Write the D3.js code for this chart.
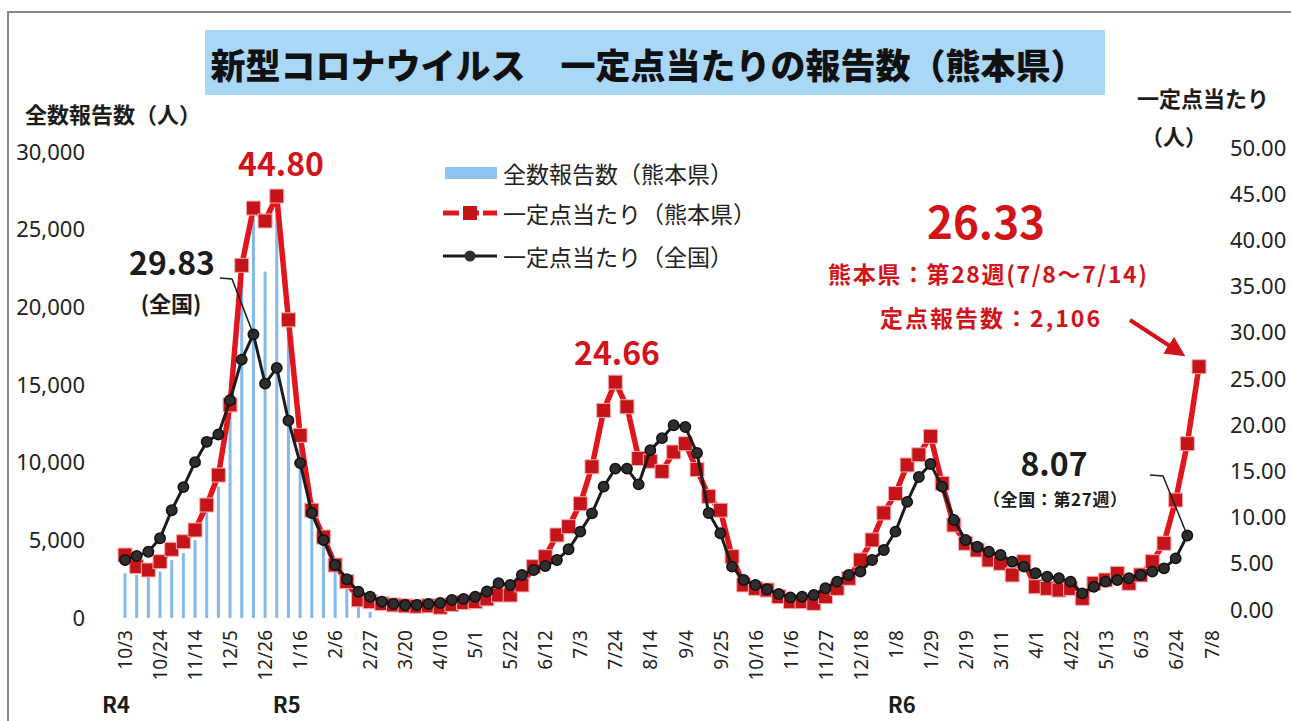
<!DOCTYPE html>
<html lang="ja">
<head>
<meta charset="utf-8">
<script src="https://cdnjs.cloudflare.com/ajax/libs/d3/7.8.5/d3.min.js"></script>
<style>
  html, body { margin: 0; padding: 0; background: #fff; }
  svg { display: block; }
  text { font-family: "Noto Sans CJK JP", "Noto Sans", sans-serif; }
  .axis text { font-family: "Noto Sans", sans-serif; fill: #222; }
</style>
</head>
<body>
<div id="chart"></div>
<script>
var svgWidth = 1291;
var svgHeight = 721;

// weeks (monday) from R4 10/3 to R6 7/8
var weeks = d3.timeMonday.range(new Date(2022, 9, 3), new Date(2024, 6, 9));
var fmtWeek = d3.timeFormat("%-m/%-d");
var weekLabels = weeks.map(fmtWeek);

var tickLabels = ["10/3", "10/24", "11/14", "12/5", "12/26", "1/16", "2/6", "2/27", "3/20", "4/10",
  "5/1", "5/22", "6/12", "7/3", "7/24", "8/14", "9/4", "9/25", "10/16", "11/6", "11/27", "12/18",
  "1/8", "1/29", "2/19", "3/11", "4/1", "4/22", "5/13", "6/3", "6/24", "7/8"];

var eraLabels = ["R4", "R5", "R6"];
var eraWeeks = ["10/3", "1/2", "1/1"];

var leftTicks = [0, 5000, 10000, 15000, 20000, 25000, 30000];
var rightTicks = [0, 5, 10, 15, 20, 25, 30, 35, 40, 45, 50];

// 全数報告数（熊本県）
var totalReports = [2880, 2770, 2660, 2980, 3730, 4170, 5020, 6950, 8450, 12960,
  22000, 25700, 22300, 26400, 18700, 11300, 6600, 4800, 3000, 1900, 800, 400];

// 一定点当たり（熊本県）
var kumamoto = [5.95, 4.69, 4.33, 5.23, 6.57, 7.39, 8.66, 11.36, 14.6, 22.2,
  37.3, 43.5, 42.1, 44.80, 31.4, 18.9, 10.8, 7.9, 4.87, 3.07,
  1.1, 0.9, 0.7, 0.55, 0.45, 0.4, 0.45, 0.3, 0.6, 0.8,
  0.9, 1.2, 1.62, 1.62, 2.71, 4.69, 5.77, 8.12, 9.02, 11.5,
  15.5, 21.6, 24.66, 22.0, 16.4, 16.1, 15.0, 17.1, 18.0, 15.2,
  12.3, 10.8, 5.77, 2.71, 2.34, 2.16, 1.44, 0.9, 0.9, 0.72,
  1.44, 2.34, 3.43, 5.41, 7.58, 10.5, 12.6, 15.7, 16.8, 18.8,
  13.7, 9.2, 7.22, 6.49, 5.41, 5.05, 3.79, 5.23, 2.52, 2.34,
  2.16, 2.34, 1.26, 2.89, 3.25, 3.97, 2.89, 3.79, 5.23, 7.22,
  11.9, 18.0, 26.33];

// 一定点当たり（全国）
var zenkoku = [5.41, 5.84, 6.31, 7.76, 10.8, 13.3, 16.0, 18.2, 19.0, 22.7,
  27.1, 29.83, 24.5, 26.2, 20.5, 15.9, 10.5, 7.58, 4.87, 3.32,
  1.98, 1.44, 0.90, 0.65, 0.54, 0.54, 0.65, 0.76, 1.08, 1.2,
  1.44, 2.0, 2.89, 2.7, 3.79, 4.33, 4.76, 5.41, 6.57, 8.48,
  10.46, 13.35, 15.3, 15.3, 13.6, 17.3, 18.6, 20.0, 19.8, 17.0,
  10.5, 8.3, 4.69, 3.25, 2.7, 2.24, 1.73, 1.37, 1.44, 1.62,
  2.35, 3.07, 3.79, 4.15, 5.41, 6.49, 8.48, 11.7, 14.4, 15.8,
  13.35, 9.74, 7.58, 6.85, 6.31, 5.95, 5.23, 4.69, 3.97, 3.61,
  3.43, 3.07, 1.8, 2.52, 3.07, 3.25, 3.43, 3.79, 4.15, 4.51,
  5.59, 8.07];

var red = "#e0161c";
var redDark = "#c4141a";
var textRed = "#d3131a";
var black = "#1c1c1c";

var svg = d3.select("#chart")
  .append("svg")
  .attr("width", svgWidth)
  .attr("height", svgHeight);

// frame
svg.append("path")
  .attr("d", "M8,721 L8,12 L1291,12")
  .attr("fill", "none")
  .attr("stroke", "#8a8a8a")
  .attr("stroke-width", 2);

// Step 1: scales
var xScale = d3.scalePoint().domain(weekLabels).range([125, 1199]);
var yLeft = d3.scaleLinear().domain([0, 30000]).range([618, 152]);
var yRight = d3.scaleLinear().domain([0, 50]).range([610, 148]);

// Step 2: title
svg.append("rect")
  .attr("x", 205).attr("y", 30)
  .attr("width", 900).attr("height", 65)
  .attr("fill", "#a9d7f6");

svg.append("text")
  .attr("x", 648).attr("y", 63)
  .attr("text-anchor", "middle")
  .attr("dominant-baseline", "central")
  .attr("font-size", 35)
  .attr("font-weight", 900)
  .attr("fill", "#111")
  .text("新型コロナウイルス　一定点当たりの報告数（熊本県）");

// Step 3: axes
var leftAxis = svg.append("g")
  .attr("class", "axis")
  .attr("transform", "translate(85,0)")
  .call(d3.axisLeft(yLeft).tickValues(leftTicks).tickFormat(d3.format(",")).tickSize(0).tickPadding(0));

var rightAxis = svg.append("g")
  .attr("class", "axis")
  .attr("transform", "translate(1230,0)")
  .call(d3.axisRight(yRight).tickValues(rightTicks).tickFormat(d3.format(".2f")).tickSize(0).tickPadding(0));

var bottomAxis = svg.append("g")
  .attr("class", "axis")
  .attr("transform", "translate(0,630)")
  .call(d3.axisBottom(xScale).tickValues(tickLabels).tickSize(0));

svg.selectAll(".axis .domain").remove();
leftAxis.selectAll("text").attr("font-size", 22);
rightAxis.selectAll("text").attr("font-size", 22);
bottomAxis.selectAll("text")
  .attr("font-size", 19)
  .attr("x", 0)
  .attr("y", d => d === "7/8" ? 13 : 0)
  .attr("dy", "0.35em")
  .attr("transform", "rotate(-90)")
  .style("text-anchor", "end");

// axis titles
svg.append("text")
  .attr("x", 25).attr("y", 113)
  .attr("dominant-baseline", "central")
  .attr("font-size", 22).attr("font-weight", 700).attr("fill", black)
  .text("全数報告数（人）");

svg.append("text")
  .attr("x", 1137).attr("y", 97)
  .attr("dominant-baseline", "central")
  .attr("font-size", 22).attr("font-weight", 700).attr("fill", black)
  .text("一定点当たり");

svg.append("text")
  .attr("x", 1141).attr("y", 135)
  .attr("dominant-baseline", "central")
  .attr("font-size", 22).attr("font-weight", 700).attr("fill", black)
  .text("（人）");

// era labels
svg.append("g").selectAll("text")
  .data(eraLabels)
  .enter()
  .append("text")
  .attr("x", (d, i) => xScale(eraWeeks[i]) + [-23, -4, 4][i])
  .attr("y", 703)
  .attr("dominant-baseline", "central")
  .attr("font-size", 22).attr("font-weight", 700).attr("fill", black)
  .text(d => d);

// Step 4: bars
var barGroup = svg.append("g");
barGroup.selectAll("rect")
  .data(totalReports)
  .enter()
  .append("rect")
  .attr("x", (d, i) => xScale(weekLabels[i]) - 1.5)
  .attr("y", d => yLeft(d))
  .attr("width", 3)
  .attr("height", d => yLeft(0) - yLeft(d))
  .attr("fill", "#84b9ea");

// Step 5: lines
var lineGen = d3.line()
  .x((d, i) => xScale(weekLabels[i]))
  .y(d => yRight(d));

svg.append("path")
  .datum(kumamoto)
  .attr("d", lineGen)
  .attr("fill", "none")
  .attr("stroke", red)
  .attr("stroke-width", 5.5)
  .attr("stroke-linejoin", "round");

svg.append("g").selectAll("rect")
  .data(kumamoto)
  .enter()
  .append("rect")
  .attr("x", (d, i) => xScale(weekLabels[i]) - 7)
  .attr("y", d => yRight(d) - 7)
  .attr("width", 14)
  .attr("height", 14)
  .attr("fill", redDark)
  .attr("stroke", "#f3b0b0")
  .attr("stroke-width", 1);

svg.append("path")
  .datum(zenkoku)
  .attr("d", lineGen)
  .attr("fill", "none")
  .attr("stroke", black)
  .attr("stroke-width", 3);

svg.append("g").selectAll("circle")
  .data(zenkoku)
  .enter()
  .append("circle")
  .attr("cx", (d, i) => xScale(weekLabels[i]))
  .attr("cy", d => yRight(d))
  .attr("r", 5.2)
  .attr("fill", "#2e2e2e")
  .attr("stroke", "#111")
  .attr("stroke-width", 1.5);

// Step 6: legend
var legend = svg.append("g");
legend.append("rect")
  .attr("x", 445).attr("y", 167).attr("width", 52).attr("height", 12)
  .attr("fill", "#8ec4f0");
legend.append("line")
  .attr("x1", 443).attr("x2", 497).attr("y1", 213).attr("y2", 213)
  .attr("stroke", red).attr("stroke-width", 5).attr("stroke-dasharray", "16,4");
legend.append("rect")
  .attr("x", 463).attr("y", 206).attr("width", 14).attr("height", 14)
  .attr("fill", redDark);
legend.append("line")
  .attr("x1", 443).attr("x2", 497).attr("y1", 256).attr("y2", 256)
  .attr("stroke", black).attr("stroke-width", 3);
legend.append("circle")
  .attr("cx", 470).attr("cy", 256).attr("r", 5.5)
  .attr("fill", "#2e2e2e");

legend.selectAll("text")
  .data([["全数報告数（熊本県）", 173], ["一定点当たり（熊本県）", 213], ["一定点当たり（全国）", 256]])
  .enter()
  .append("text")
  .attr("x", 503)
  .attr("y", d => d[1])
  .attr("dominant-baseline", "central")
  .attr("font-size", 23)
  .attr("fill", "#222")
  .text(d => d[0]);

// Step 7: annotations
function note(x, y, size, color, str, len) {
  var t = svg.append("text")
    .attr("x", x).attr("y", y)
    .attr("text-anchor", len ? "start" : "middle")
    .attr("dominant-baseline", "central")
    .attr("font-size", size)
    .attr("font-weight", 700)
    .attr("fill", color)
    .text(str);
  if (len) t.attr("textLength", len).attr("lengthAdjust", "spacing");
  return t;
}

note(281, 162, 32, textRed, "44.80");
note(172, 261, 32, black, "29.83");
note(171, 302, 22, black, "(全国)");
note(617, 351, 32, textRed, "24.66");
note(986, 220, 44, textRed, "26.33");
note(828, 273, 23, textRed, "熊本県：第28週(7/8～7/14)", 319);
note(880, 317, 23, textRed, "定点報告数：2,106", 220);
note(1054, 462, 32, black, "8.07");
note(983, 498, 17, black, "（全国：第27週）", 144);

// leader lines
svg.append("path")
  .attr("d", `M220,278 L232,279 L${xScale(weekLabels[11])},${yRight(zenkoku[11])}`)
  .attr("fill", "none").attr("stroke", black).attr("stroke-width", 1.5);
svg.append("path")
  .attr("d", `M1150,475 L1163,476 L${xScale(weekLabels[91])},${yRight(zenkoku[91])}`)
  .attr("fill", "none").attr("stroke", black).attr("stroke-width", 1.5);

// arrow
svg.append("defs").append("marker")
  .attr("id", "arrowHead")
  .attr("viewBox", "0 0 10 10")
  .attr("refX", 8).attr("refY", 5)
  .attr("markerWidth", 5).attr("markerHeight", 5)
  .attr("orient", "auto")
  .append("path")
  .attr("d", "M0,0 L10,5 L0,10 Z")
  .attr("fill", textRed);

svg.append("line")
  .attr("x1", 1130).attr("y1", 320)
  .attr("x2", 1182).attr("y2", 354)
  .attr("stroke", textRed).attr("stroke-width", 4)
  .attr("marker-end", "url(#arrowHead)");
</script>
</body>
</html>
